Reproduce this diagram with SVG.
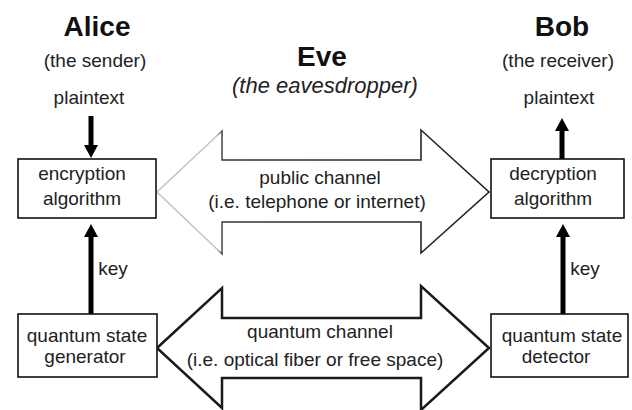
<svg xmlns="http://www.w3.org/2000/svg" width="632" height="410" viewBox="0 0 632 410">
  <defs>
    <style>
      text { font-family: "Liberation Sans", Arial, sans-serif; fill: #222; text-anchor: middle; }
      .title { font-size: 28px; font-weight: bold; fill: #111; }
      .lbl { font-size: 19px; }
      .eve { font-size: 22px; font-style: italic; }
      .box { fill: #fff; stroke: #111; stroke-width: 1.6; }
      .shaft { stroke: #000; stroke-width: 5; fill: none; marker-end: url(#head); }
    </style>
    <marker id="head" markerUnits="userSpaceOnUse" markerWidth="13" markerHeight="14" viewBox="0 0 13 14" refX="0" refY="7" orient="auto">
      <path d="M0,0 L13,7 L0,14 z" fill="#000"/>
    </marker>
    <!-- public channel outline fades to light grey at the left head -->
    <linearGradient id="fade" gradientUnits="userSpaceOnUse" x1="157" y1="0" x2="489" y2="0">
      <stop offset="0" stop-color="#c4c4c4"/>
      <stop offset="0.18" stop-color="#c4c4c4"/>
      <stop offset="0.2" stop-color="#333"/>
      <stop offset="1" stop-color="#222"/>
    </linearGradient>
  </defs>
  <rect width="632" height="410" fill="#fff"/>

  <!-- headings -->
  <g id="alice-heading">
    <text class="title" x="97" y="36">Alice</text>
    <text class="lbl" x="95" y="67">(the sender)</text>
    <text class="lbl" x="89" y="104">plaintext</text>
  </g>
  <g id="bob-heading">
    <text class="title" x="562" y="36">Bob</text>
    <text class="lbl" x="558" y="67">(the receiver)</text>
    <text class="lbl" x="559" y="104">plaintext</text>
  </g>
  <g id="eve-heading">
    <text class="title" x="322" y="66">Eve</text>
    <text class="eve" x="325" y="93">(the eavesdropper)</text>
  </g>

  <!-- connectors -->
  <g id="connectors">
    <g id="public-channel">
      <polygon points="157,192 222,131 222,160 421,160 421,130 489,192 421,253 421,222 222,222 222,254" fill="#fff" stroke="url(#fade)" stroke-width="1.6" stroke-linejoin="miter"/>
      <text class="lbl" x="320" y="184">public channel</text>
      <text class="lbl" x="317" y="208">(i.e. telephone or internet)</text>
    </g>
    <g id="quantum-channel">
      <polygon points="157,348 222,288 222,318 421,318 421,286 489,348 421,410 421,378 222,378 222,408" fill="#fff" stroke="#1a1a1a" stroke-width="2.5" stroke-linejoin="miter"/>
      <text class="lbl" x="320" y="338">quantum channel</text>
      <text class="lbl" x="315" y="366">(i.e. optical fiber or free space)</text>
    </g>
    <line class="shaft" x1="91" y1="116" x2="91" y2="145"/>
    <line class="shaft" x1="562" y1="159" x2="562" y2="131"/>
    <line class="shaft" x1="91" y1="314" x2="91" y2="237"/>
    <text class="lbl" x="113" y="275">key</text>
    <line class="shaft" x1="563" y1="314" x2="563" y2="237"/>
    <text class="lbl" x="585" y="275">key</text>
  </g>

  <!-- nodes -->
  <g id="encryption">
    <rect class="box" x="18" y="159" width="138" height="59"/>
    <text class="lbl" x="82" y="180">encryption</text>
    <text class="lbl" x="82" y="205">algorithm</text>
  </g>
  <g id="generator">
    <rect class="box" x="18" y="314" width="139" height="63"/>
    <text class="lbl" x="87" y="342">quantum state</text>
    <text class="lbl" x="85" y="363">generator</text>
  </g>
  <g id="decryption">
    <rect class="box" x="491" y="159" width="133" height="59"/>
    <text class="lbl" x="553" y="180">decryption</text>
    <text class="lbl" x="553" y="205">algorithm</text>
  </g>
  <g id="detector">
    <rect class="box" x="491" y="314" width="137" height="63"/>
    <text class="lbl" x="562" y="342">quantum state</text>
    <text class="lbl" x="556" y="363">detector</text>
  </g>
</svg>
